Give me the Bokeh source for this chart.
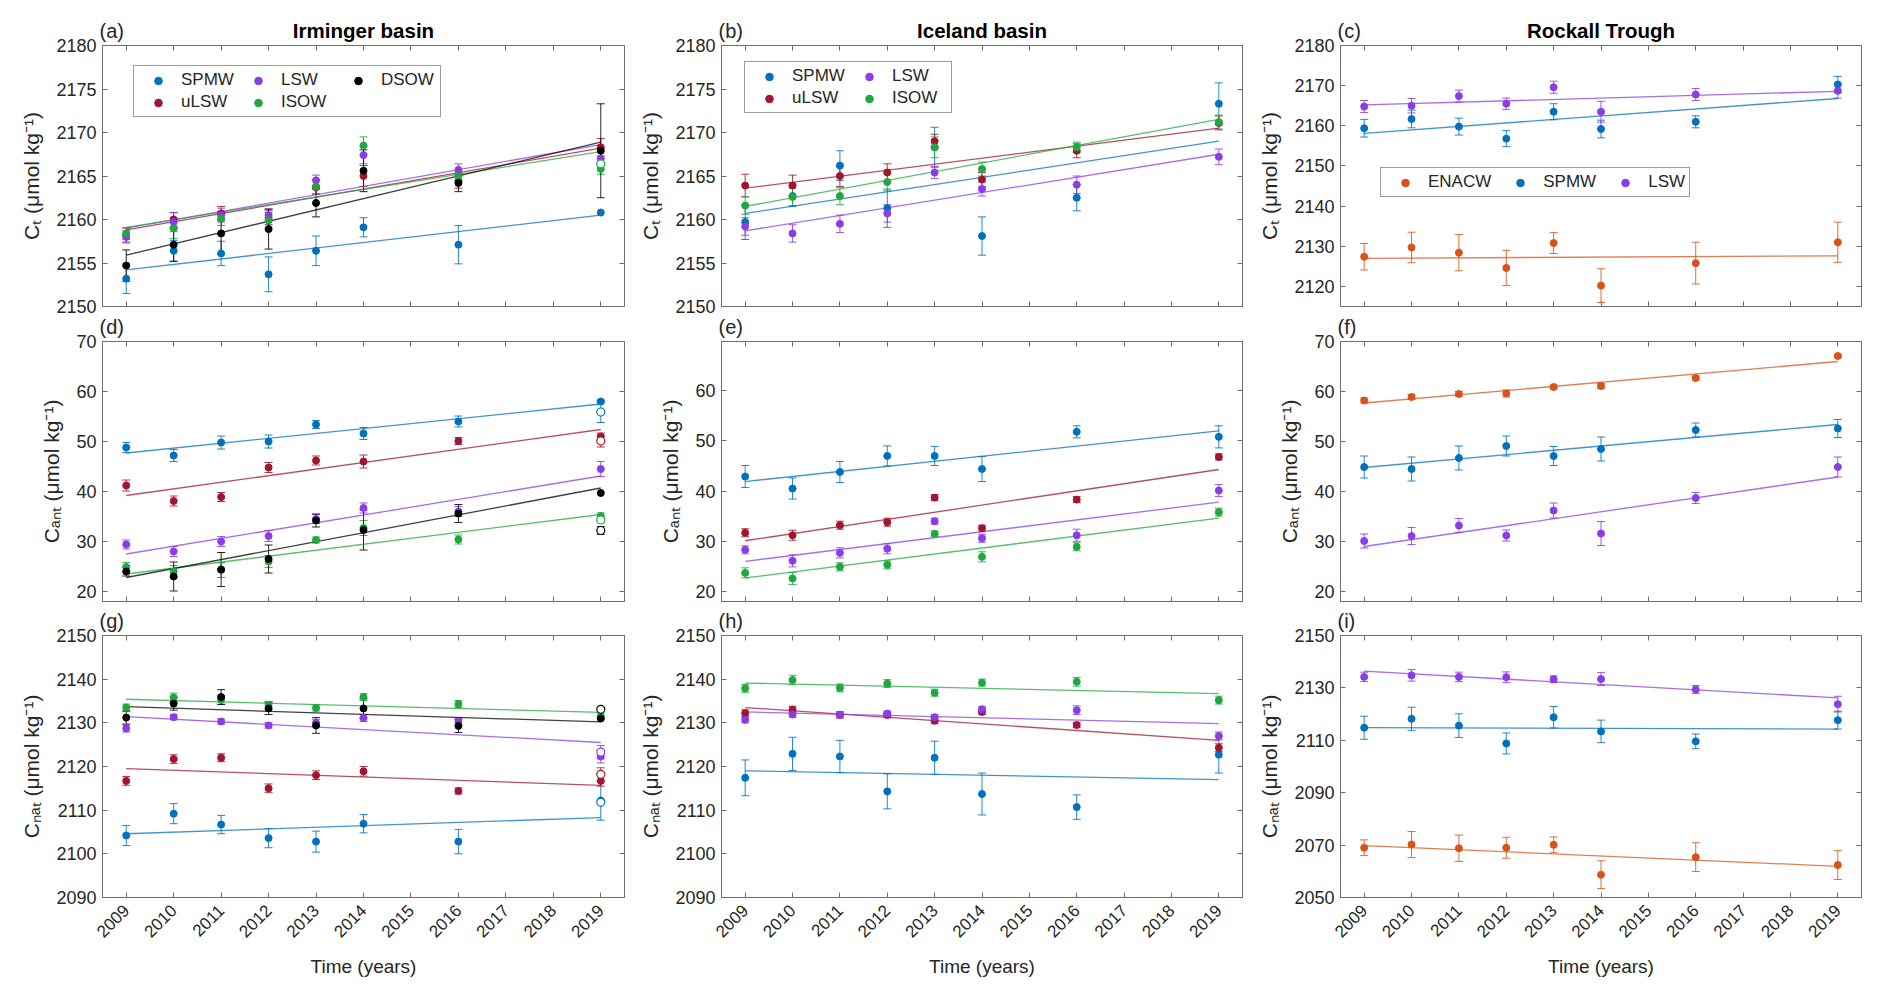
from math import pi
from bokeh.plotting import figure
from bokeh.layouts import column, row
from bokeh.models import (ColumnDataSource, Whisker, TeeHead, Label, Legend, LegendItem,
                          LinearAxis, FixedTicker, Range1d)
from bokeh.embed import file_html
from bokeh.resources import INLINE

# ---------------- data ----------------
years = [2009, 2010, 2011, 2012, 2013, 2014, 2016, 2019]
fit_years = [2009, 2019]
x_ticks = list(range(2009, 2020))
open_year = [2019]

# (a) C_T Irminger basin
a_spmw = [2153.2, 2156.4, 2156.1, 2153.7, 2156.4, 2159.1, 2157.1, 2160.8]
a_spmw_err = [1.7, 1.2, 1.4, 2.0, 1.7, 1.1, 2.2, 0.0]
a_ulsw = [2158.2, 2160.0, 2160.7, 2160.2, 2163.7, 2165.0, 2164.4, 2168.3]
a_ulsw_err = [0.8, 0.8, 0.8, 0.8, 0.8, 1.2, 0.8, 1.0]
a_lsw = [2158.0, 2159.7, 2160.5, 2160.5, 2164.5, 2167.4, 2165.7, 2167.0]
a_lsw_err = [0.7, 1.1, 0.8, 0.7, 0.6, 1.0, 0.7, 0.8]
a_isow = [2158.4, 2159.0, 2160.1, 2159.9, 2163.8, 2168.5, 2165.0, 2165.8]
a_isow_err = [0.7, 1.2, 0.8, 0.9, 0.8, 1.0, 0.6, 0.6]
a_dsow = [2154.7, 2157.1, 2158.4, 2158.9, 2161.9, 2165.6, 2164.2, 2167.9]
a_dsow_err = [1.8, 1.9, 2.4, 2.3, 1.6, 2.4, 1.0, 5.4]
a_spmw_fit = [2154.2, 2160.5]
a_ulsw_fit = [2158.8, 2168.2]
a_lsw_fit = [2159.0, 2168.6]
a_isow_fit = [2159.1, 2167.8]
a_dsow_fit = [2155.9, 2168.9]
a_isow_open = [2166.4]

# (b) C_T Iceland basin
b_spmw = [2159.7, 2162.7, 2166.2, 2161.3, 2168.3, 2158.1, 2162.5, 2173.3]
b_spmw_err = [2.0, 1.2, 1.7, 2.2, 2.3, 2.2, 1.5, 2.4]
b_ulsw = [2163.9, 2163.9, 2165.0, 2165.4, 2169.0, 2164.6, 2167.9, 2171.1]
b_ulsw_err = [1.3, 1.2, 1.2, 1.0, 0.8, 0.8, 0.8, 0.8]
b_lsw = [2159.2, 2158.4, 2159.5, 2160.7, 2165.4, 2163.5, 2164.0, 2167.2]
b_lsw_err = [1.0, 1.0, 1.0, 1.0, 0.7, 0.8, 1.0, 0.9]
b_isow = [2161.6, 2162.6, 2162.7, 2164.3, 2168.3, 2165.8, 2168.3, 2171.2]
b_isow_err = [1.0, 1.0, 1.0, 1.0, 1.2, 0.8, 0.6, 0.8]
b_spmw_fit = [2160.7, 2169.0]
b_ulsw_fit = [2163.6, 2170.5]
b_lsw_fit = [2158.7, 2167.5]
b_isow_fit = [2161.5, 2171.5]

# (c) C_T Rockall Trough
c_enacw = [2127.4, 2129.7, 2128.4, 2124.6, 2130.8, 2120.2, 2125.8, 2131.0]
c_enacw_err = [3.3, 3.8, 4.5, 4.4, 2.6, 4.2, 5.2, 5.0]
c_spmw = [2159.4, 2161.7, 2159.8, 2156.8, 2163.5, 2159.2, 2161.0, 2170.3]
c_spmw_err = [2.2, 2.2, 2.1, 2.0, 2.0, 2.2, 1.5, 2.0]
c_lsw = [2164.8, 2165.0, 2167.4, 2165.5, 2169.6, 2163.5, 2167.8, 2168.7]
c_lsw_err = [1.5, 1.8, 1.5, 1.4, 1.5, 2.6, 1.5, 1.8]
c_enacw_fit = [2127.0, 2127.6]
c_spmw_fit = [2158.1, 2166.8]
c_lsw_fit = [2165.2, 2168.6]

# (d) C_ant Irminger basin
d_spmw = [48.8, 47.2, 49.8, 50.0, 53.4, 51.6, 54.0, 58.0]
d_spmw_err = [1.0, 1.2, 1.3, 1.3, 0.8, 1.2, 1.1, 0.3]
d_ulsw = [41.2, 38.1, 38.9, 44.8, 46.2, 46.0, 50.1, 51.0]
d_ulsw_err = [1.1, 1.0, 0.9, 1.0, 0.9, 1.3, 0.7, 0.7]
d_lsw = [29.4, 28.0, 30.0, 31.1, 34.5, 36.7, 36.0, 44.5]
d_lsw_err = [0.9, 1.0, 1.0, 1.1, 0.9, 1.0, 1.0, 1.5]
d_isow = [24.9, 24.0, 24.3, 26.0, 30.3, 32.7, 30.4, 35.1]
d_isow_err = [0.9, 1.2, 1.5, 1.2, 0.6, 1.5, 0.9, 0.6]
d_dsow = [24.0, 23.0, 24.4, 26.5, 34.2, 32.3, 35.6, 39.7]
d_dsow_err = [0.9, 2.9, 3.4, 2.8, 1.3, 4.0, 1.8, 0.0]
d_spmw_fit = [47.7, 57.5]
d_ulsw_fit = [39.2, 52.4]
d_lsw_fit = [27.5, 43.1]
d_isow_fit = [23.5, 35.4]
d_dsow_fit = [22.8, 40.7]
d_spmw_open, d_spmw_open_err = [55.9], [2.1]
d_ulsw_open, d_ulsw_open_err = [50.1], [1.2]
d_isow_open, d_isow_open_err = [34.3], [0.5]
d_dsow_open, d_dsow_open_err = [32.2], [0.8]

# (e) C_ant Iceland basin
e_spmw = [42.9, 40.5, 43.8, 47.0, 47.0, 44.4, 51.8, 50.8]
e_spmw_err = [2.2, 2.1, 2.1, 2.0, 1.9, 2.5, 1.2, 2.2]
e_ulsw = [31.7, 31.2, 33.2, 33.8, 38.7, 32.6, 38.3, 46.8]
e_ulsw_err = [0.8, 1.0, 0.8, 0.8, 0.6, 0.6, 0.6, 0.6]
e_lsw = [28.3, 26.1, 27.7, 28.5, 34.0, 30.6, 31.2, 40.1]
e_lsw_err = [0.8, 1.2, 1.0, 1.0, 0.6, 0.8, 1.2, 1.2]
e_isow = [23.7, 22.6, 24.9, 25.3, 31.5, 26.9, 28.9, 35.8]
e_isow_err = [1.0, 1.2, 0.8, 0.8, 0.5, 1.0, 0.8, 0.8]
e_spmw_fit = [41.9, 52.0]
e_ulsw_fit = [30.1, 44.3]
e_lsw_fit = [26.0, 37.8]
e_isow_fit = [22.7, 34.6]

# (f) C_ant Rockall Trough
f_enacw = [58.2, 58.9, 59.5, 59.6, 60.9, 61.1, 62.7, 67.1]
f_enacw_err = [0.5, 0.5, 0.5, 0.7, 0.4, 0.5, 0.4, 0.3]
f_spmw = [44.9, 44.5, 46.7, 49.1, 47.1, 48.5, 52.3, 52.6]
f_spmw_err = [2.2, 2.4, 2.4, 2.0, 1.9, 2.4, 1.4, 1.8]
f_lsw = [30.1, 31.1, 33.2, 31.2, 36.2, 31.6, 38.7, 44.9]
f_lsw_err = [1.4, 1.7, 1.4, 1.1, 1.5, 2.4, 1.1, 2.0]
f_enacw_fit = [57.7, 66.0]
f_spmw_fit = [44.8, 53.4]
f_lsw_fit = [29.0, 42.9]

# (g) C_nat Irminger basin
g_spmw = [2104.2, 2109.2, 2106.7, 2103.6, 2102.8, 2106.9, 2102.8, 2112.2]
g_spmw_err = [2.3, 2.3, 2.1, 2.2, 2.4, 2.1, 2.8, 4.5]
g_ulsw = [2116.7, 2121.7, 2122.0, 2115.0, 2118.0, 2118.9, 2114.4, 2116.7]
g_ulsw_err = [1.0, 1.0, 0.9, 1.0, 1.0, 1.1, 0.7, 1.2]
g_lsw = [2128.7, 2131.3, 2130.3, 2129.4, 2130.0, 2131.1, 2130.3, 2122.3]
g_lsw_err = [0.8, 0.6, 0.6, 0.6, 0.8, 0.8, 0.8, 1.5]
g_isow = [2133.5, 2135.8, 2135.3, 2134.0, 2133.4, 2135.9, 2134.3, 2131.5]
g_isow_err = [0.8, 1.0, 1.0, 0.9, 0.7, 0.8, 0.8, 0.8]
g_dsow = [2131.2, 2134.4, 2135.9, 2133.3, 2129.4, 2133.3, 2129.3, 2131.0]
g_dsow_err = [1.5, 1.5, 1.7, 1.4, 1.8, 2.2, 1.5, 0.0]
g_spmw_fit = [2104.6, 2108.3]
g_ulsw_fit = [2119.5, 2115.7]
g_lsw_fit = [2131.4, 2125.5]
g_isow_fit = [2135.4, 2132.4]
g_dsow_fit = [2133.7, 2130.2]
g_spmw_open, g_spmw_open_err = [2111.8], [0.0]
g_ulsw_open, g_ulsw_open_err = [2118.2], [1.5]
g_lsw_open, g_lsw_open_err = [2123.3], [1.5]
g_dsow_open, g_dsow_open_err = [2133.1], [0.0]

# (h) C_nat Iceland basin
h_spmw = [2117.4, 2122.9, 2122.3, 2114.3, 2122.0, 2113.7, 2110.7, 2122.7]
h_spmw_err = [4.1, 3.8, 3.7, 4.0, 3.8, 4.8, 2.8, 4.2]
h_ulsw = [2132.2, 2133.0, 2131.8, 2131.8, 2130.5, 2132.5, 2129.5, 2124.3]
h_ulsw_err = [0.8, 0.8, 0.7, 0.6, 0.7, 0.6, 0.6, 0.9]
h_lsw = [2130.7, 2131.9, 2131.9, 2132.1, 2131.3, 2133.1, 2132.9, 2127.0]
h_lsw_err = [0.7, 0.6, 0.6, 0.6, 0.6, 0.6, 1.0, 0.9]
h_isow = [2137.9, 2139.8, 2138.0, 2139.0, 2136.9, 2139.2, 2139.4, 2135.2]
h_isow_err = [0.9, 1.1, 0.9, 0.9, 0.8, 0.8, 1.0, 0.9]
h_spmw_fit = [2119.0, 2117.0]
h_ulsw_fit = [2133.5, 2126.0]
h_lsw_fit = [2132.5, 2129.8]
h_isow_fit = [2139.1, 2136.7]

# (i) C_nat Rockall Trough
i_enacw = [2069.0, 2070.2, 2068.8, 2069.0, 2070.1, 2058.7, 2065.4, 2062.4]
i_enacw_err = [3.0, 5.0, 5.0, 4.0, 3.0, 5.3, 5.5, 5.5]
i_spmw = [2114.8, 2118.2, 2115.6, 2108.8, 2118.8, 2113.4, 2109.6, 2117.7]
i_spmw_err = [4.4, 4.4, 4.5, 4.0, 4.1, 4.3, 2.8, 3.4]
i_lsw = [2134.2, 2134.8, 2134.2, 2134.1, 2133.3, 2133.4, 2129.4, 2123.8]
i_lsw_err = [1.8, 2.2, 1.8, 2.0, 1.3, 2.5, 1.5, 3.0]
i_enacw_fit = [2069.8, 2061.9]
i_spmw_fit = [2114.8, 2114.3]
i_lsw_fit = [2136.4, 2126.2]

# ---------------- style ----------------
FONT = "Liberation Sans"
TXT = "#262626"
FRAME = "#6E6E6E"
COLORS = {"ENACW": "#D95319", "SPMW": "#0072BD", "uLSW": "#A2142F",
          "LSW": "#8C3CE6", "ISOW": "#1FA83E", "DSOW": "#000000"}

# left border, right border, frame width per column
COLS = [(102, 10, 522), (87, 10, 521), (88, 10, 521)]
# top border, bottom border, frame height per row
ROWS = [(36, 10, 261), (25, 5, 260), (29, 85, 262)]

YLAB = {0: "Cₜ (μmol kg⁻¹)", 1: "Cₐₙₜ (μmol kg⁻¹)", 2: "Cₙₐₜ (μmol kg⁻¹)"}


def style_axis(ax, show_labels, fs="18px"):
    ax.axis_line_color = FRAME
    ax.axis_line_width = 1
    ax.major_tick_line_color = FRAME
    ax.major_tick_in = 5
    ax.major_tick_out = 0
    ax.minor_tick_line_color = None
    ax.major_label_text_font = FONT
    ax.major_label_text_font_size = fs
    if show_labels:
        ax.major_label_text_color = TXT
        ax.major_label_standoff = 6
    else:
        ax.major_label_text_color = None
        ax.major_label_standoff = 0


def make_panel(col, rowi, letter, title, yrange, yticks, series, opens=(), legend=None):
    lb, rb, fw = COLS[col]
    tb, bb, fh = ROWS[rowi]
    p = figure(frame_width=fw, frame_height=fh,
               min_border_left=lb, min_border_right=rb,
               min_border_top=tb, min_border_bottom=bb,
               x_range=Range1d(2008.5, 2019.5), y_range=Range1d(*yrange),
               output_backend="svg", toolbar_location=None, tools="")
    p.outline_line_color = FRAME
    p.outline_line_width = 1
    p.xgrid.grid_line_color = None
    p.ygrid.grid_line_color = None
    p.background_fill_color = "white"
    p.border_fill_color = "white"

    bottom = p.below[0]
    left = p.left[0]
    bottom.ticker = FixedTicker(ticks=x_ticks)
    left.ticker = FixedTicker(ticks=yticks)
    show_x = rowi == 2
    style_axis(bottom, show_x, "17px")
    style_axis(left, True, "18px")
    if show_x:
        bottom.major_label_orientation = pi / 4
        bottom.major_label_standoff = 10
        bottom.axis_label = "Time (years)"
        bottom.axis_label_text_font = FONT
        bottom.axis_label_text_font_size = "19px"
        bottom.axis_label_text_font_style = "normal"
        bottom.axis_label_text_color = TXT
        bottom.axis_label_standoff = 10
    left.axis_label = YLAB[rowi]
    left.axis_label_text_font = FONT
    left.axis_label_text_font_size = "21px"
    left.axis_label_text_font_style = "normal"
    left.axis_label_text_color = TXT
    left.axis_label_standoff = 10
    top = LinearAxis(ticker=FixedTicker(ticks=x_ticks))
    right = LinearAxis(ticker=FixedTicker(ticks=yticks))
    style_axis(top, False)
    style_axis(right, False)
    p.add_layout(top, "above")
    p.add_layout(right, "right")

    # trend lines
    for name, vals, errs, fit in series:
        p.line(fit_years, fit, line_color=COLORS[name], line_width=1.3, line_alpha=0.75)

    def errbars(xs, vals, errs, c):
        keep = [i for i, e in enumerate(errs) if e > 0]
        if not keep:
            return
        src = ColumnDataSource(dict(
            x=[xs[i] for i in keep],
            lower=[vals[i] - errs[i] for i in keep],
            upper=[vals[i] + errs[i] for i in keep]))
        p.add_layout(Whisker(source=src, base="x", lower="lower", upper="upper",
                             dimension="height", line_color=c, line_width=1, line_alpha=0.85,
                             upper_head=TeeHead(size=8, line_color=c, line_width=1, line_alpha=0.85),
                             lower_head=TeeHead(size=8, line_color=c, line_width=1, line_alpha=0.85)))

    rends = {}
    for name, vals, errs, fit in series:
        c = COLORS[name]
        errbars(years, vals, errs, c)
        rends[name] = p.scatter(years, vals, size=7, marker="circle",
                                fill_color=c, line_color=c)
    for name, vals, errs in opens:
        c = COLORS[name]
        errbars(open_year, vals, errs, c)
        p.scatter(open_year, vals, size=8, marker="circle", fill_color="white",
                  line_color=c, line_width=1.2)

    # panel letter and title (placed in the side panel so they are not clipped)
    p.add_layout(Label(x=2008.5, y=yrange[1], x_offset=-3, y_offset=15, text=letter,
                       text_align="left", text_baseline="middle", text_font=FONT,
                       text_font_size="20px", text_color=TXT), "above")
    if title:
        p.add_layout(Label(x=2014.0, y=yrange[1], y_offset=15, text=title,
                           text_align="center", text_baseline="middle", text_font=FONT,
                           text_font_size="20.5px", text_font_style="bold",
                           text_color="#000000"), "above")

    if legend is not None:
        loc, orient, nrows, lw = legend
        items = [LegendItem(label=s[0], renderers=[rends[s[0]]]) for s in series]
        lg = Legend(items=items, location=loc, orientation=orient, nrows=nrows,
                    label_text_font=FONT, label_text_font_size="17px", label_text_color=TXT,
                    border_line_color="#3A3A3A", border_line_width=1,
                    background_fill_color="white", background_fill_alpha=1.0,
                    padding=4, spacing=2 if orient == "vertical" else 9, margin=0,
                    glyph_width=40, glyph_height=19, label_height=19,
                    label_standoff=3, label_width=lw)
        p.add_layout(lg)
    return p


pa = make_panel(0, 0, "(a)", "Irminger basin", (2150, 2180), list(range(2150, 2181, 5)),
                [("SPMW", a_spmw, a_spmw_err, a_spmw_fit),
                 ("uLSW", a_ulsw, a_ulsw_err, a_ulsw_fit),
                 ("LSW", a_lsw, a_lsw_err, a_lsw_fit),
                 ("ISOW", a_isow, a_isow_err, a_isow_fit),
                 ("DSOW", a_dsow, a_dsow_err, a_dsow_fit)],
                opens=[("ISOW", a_isow_open, [0.0])],
                legend=((31, 189), "vertical", 2, 55))
pb = make_panel(1, 0, "(b)", "Iceland basin", (2150, 2180), list(range(2150, 2181, 5)),
                [("SPMW", b_spmw, b_spmw_err, b_spmw_fit),
                 ("uLSW", b_ulsw, b_ulsw_err, b_ulsw_fit),
                 ("LSW", b_lsw, b_lsw_err, b_lsw_fit),
                 ("ISOW", b_isow, b_isow_err, b_isow_fit)],
                legend=((23, 193), "vertical", 2, 55))
pc = make_panel(2, 0, "(c)", "Rockall Trough", (2115, 2180), list(range(2120, 2181, 10)),
                [("ENACW", c_enacw, c_enacw_err, c_enacw_fit),
                 ("SPMW", c_spmw, c_spmw_err, c_spmw_fit),
                 ("LSW", c_lsw, c_lsw_err, c_lsw_fit)],
                legend=((40, 109), "horizontal", 1, 20))
pd_ = make_panel(0, 1, "(d)", None, (18, 70), list(range(20, 71, 10)),
                 [("SPMW", d_spmw, d_spmw_err, d_spmw_fit),
                  ("uLSW", d_ulsw, d_ulsw_err, d_ulsw_fit),
                  ("LSW", d_lsw, d_lsw_err, d_lsw_fit),
                  ("ISOW", d_isow, d_isow_err, d_isow_fit),
                  ("DSOW", d_dsow, d_dsow_err, d_dsow_fit)],
                 opens=[("SPMW", d_spmw_open, d_spmw_open_err),
                        ("uLSW", d_ulsw_open, d_ulsw_open_err),
                        ("ISOW", d_isow_open, d_isow_open_err),
                        ("DSOW", d_dsow_open, d_dsow_open_err)])
pe = make_panel(1, 1, "(e)", None, (18, 69.8), list(range(20, 61, 10)),
                [("SPMW", e_spmw, e_spmw_err, e_spmw_fit),
                 ("uLSW", e_ulsw, e_ulsw_err, e_ulsw_fit),
                 ("LSW", e_lsw, e_lsw_err, e_lsw_fit),
                 ("ISOW", e_isow, e_isow_err, e_isow_fit)])
pf = make_panel(2, 1, "(f)", None, (18, 70), list(range(20, 71, 10)),
                [("ENACW", f_enacw, f_enacw_err, f_enacw_fit),
                 ("SPMW", f_spmw, f_spmw_err, f_spmw_fit),
                 ("LSW", f_lsw, f_lsw_err, f_lsw_fit)])
pg = make_panel(0, 2, "(g)", None, (2090, 2150), list(range(2090, 2151, 10)),
                [("SPMW", g_spmw, g_spmw_err, g_spmw_fit),
                 ("uLSW", g_ulsw, g_ulsw_err, g_ulsw_fit),
                 ("LSW", g_lsw, g_lsw_err, g_lsw_fit),
                 ("ISOW", g_isow, g_isow_err, g_isow_fit),
                 ("DSOW", g_dsow, g_dsow_err, g_dsow_fit)],
                opens=[("SPMW", g_spmw_open, g_spmw_open_err),
                       ("uLSW", g_ulsw_open, g_ulsw_open_err),
                       ("LSW", g_lsw_open, g_lsw_open_err),
                       ("DSOW", g_dsow_open, g_dsow_open_err)])
ph = make_panel(1, 2, "(h)", None, (2090, 2150), list(range(2090, 2151, 10)),
                [("SPMW", h_spmw, h_spmw_err, h_spmw_fit),
                 ("uLSW", h_ulsw, h_ulsw_err, h_ulsw_fit),
                 ("LSW", h_lsw, h_lsw_err, h_lsw_fit),
                 ("ISOW", h_isow, h_isow_err, h_isow_fit)])
pi_ = make_panel(2, 2, "(i)", None, (2050, 2150), list(range(2050, 2151, 20)),
                 [("ENACW", i_enacw, i_enacw_err, i_enacw_fit),
                  ("SPMW", i_spmw, i_spmw_err, i_spmw_fit),
                  ("LSW", i_lsw, i_lsw_err, i_lsw_fit)])

layout = column(row(pa, pb, pc), row(pd_, pe, pf), row(pg, ph, pi_))
open("out.html", "w").write(file_html(layout, INLINE, title="Carbon trends"))
